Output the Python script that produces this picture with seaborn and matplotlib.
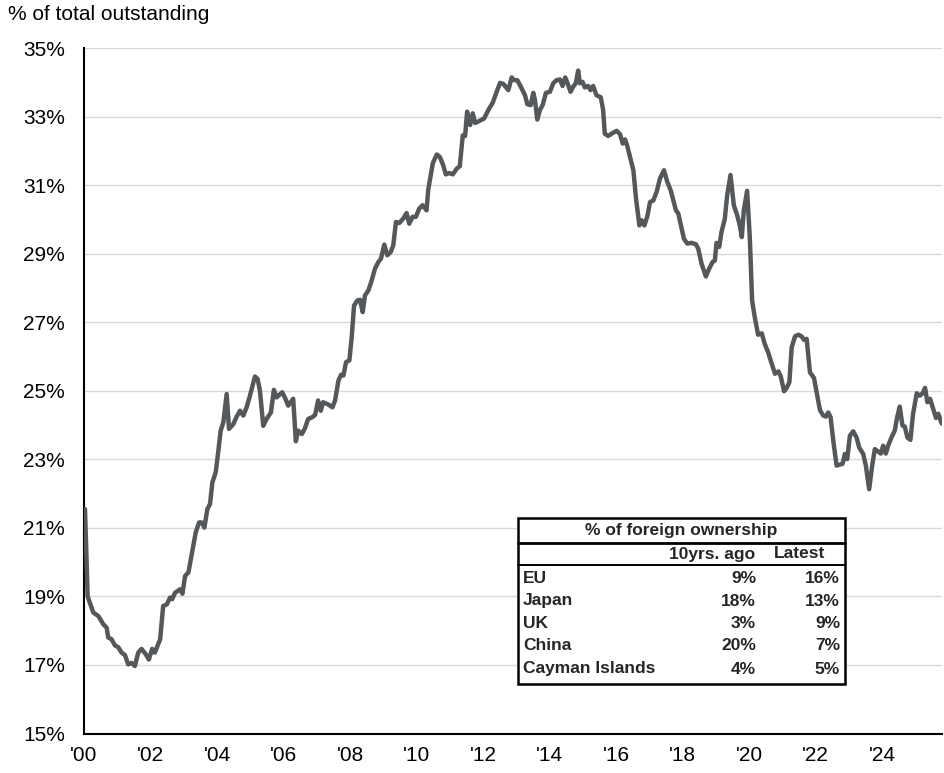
import matplotlib
matplotlib.use("Agg")
import matplotlib.pyplot as plt
import seaborn as sns
import pandas as pd
from matplotlib.patches import Rectangle
from matplotlib.lines import Line2D

# ---- data (decimal years, % of total outstanding) ----
years = [
    2000.03, 2000.11, 2000.28, 2000.43, 2000.58, 2000.68, 2000.73, 2000.83, 2000.93, 2001.03,
    2001.13, 2001.23, 2001.33, 2001.43, 2001.53, 2001.63, 2001.73, 2001.86, 2001.95, 2002.05,
    2002.13, 2002.29, 2002.38, 2002.49, 2002.59, 2002.65, 2002.74, 2002.89, 2002.96, 2003.04,
    2003.14, 2003.26, 2003.36, 2003.46, 2003.54, 2003.62, 2003.71, 2003.79, 2003.86, 2003.96,
    2004.04, 2004.11, 2004.19, 2004.29, 2004.36, 2004.49, 2004.59, 2004.69, 2004.79, 2004.89,
    2004.99, 2005.14, 2005.22, 2005.29, 2005.39, 2005.49, 2005.62, 2005.71, 2005.79, 2005.96,
    2006.04, 2006.14, 2006.29, 2006.37, 2006.44, 2006.55, 2006.64, 2006.74, 2006.86, 2006.95,
    2007.04, 2007.12, 2007.19, 2007.35, 2007.47, 2007.55, 2007.65, 2007.73, 2007.80, 2007.88,
    2007.98, 2008.05, 2008.12, 2008.22, 2008.30, 2008.38, 2008.45, 2008.55, 2008.65, 2008.75,
    2008.85, 2008.93, 2009.03, 2009.12, 2009.22, 2009.30, 2009.38, 2009.48, 2009.60, 2009.70,
    2009.78, 2009.88, 2009.98, 2010.08, 2010.18, 2010.30, 2010.35, 2010.40, 2010.49, 2010.61,
    2010.70, 2010.80, 2010.88, 2010.98, 2011.09, 2011.21, 2011.30, 2011.39, 2011.46, 2011.52,
    2011.61, 2011.69, 2011.76, 2011.89, 2012.03, 2012.16, 2012.29, 2012.39, 2012.51, 2012.61,
    2012.76, 2012.86, 2012.93, 2013.03, 2013.16, 2013.26, 2013.33, 2013.43, 2013.51, 2013.56,
    2013.63, 2013.71, 2013.79, 2013.89, 2014.01, 2014.11, 2014.21, 2014.31, 2014.39, 2014.47,
    2014.54, 2014.63, 2014.71, 2014.79, 2014.86, 2014.91, 2014.99, 2015.06, 2015.16, 2015.23,
    2015.31, 2015.41, 2015.54, 2015.61, 2015.66, 2015.76, 2015.90, 2016.02, 2016.12, 2016.20,
    2016.27, 2016.33, 2016.42, 2016.52, 2016.60, 2016.70, 2016.77, 2016.85, 2016.94, 2017.02,
    2017.12, 2017.22, 2017.32, 2017.44, 2017.54, 2017.64, 2017.72, 2017.80, 2017.87, 2017.94,
    2018.04, 2018.14, 2018.27, 2018.40, 2018.47, 2018.57, 2018.70, 2018.80, 2018.90, 2018.97,
    2019.02, 2019.10, 2019.17, 2019.27, 2019.34, 2019.44, 2019.54, 2019.64, 2019.72, 2019.78,
    2019.84, 2019.94, 2020.02, 2020.09, 2020.17, 2020.27, 2020.38, 2020.47, 2020.57, 2020.68,
    2020.78, 2020.88, 2020.95, 2021.05, 2021.13, 2021.21, 2021.28, 2021.38, 2021.48, 2021.58,
    2021.65, 2021.73, 2021.83, 2021.95, 2022.05, 2022.13, 2022.23, 2022.31, 2022.38, 2022.45,
    2022.53, 2022.63, 2022.73, 2022.81, 2022.88, 2022.95, 2023.03, 2023.13, 2023.23, 2023.31,
    2023.43, 2023.51, 2023.61, 2023.70, 2023.78, 2023.88, 2023.96, 2024.03, 2024.11, 2024.18,
    2024.28, 2024.38, 2024.45, 2024.53, 2024.61, 2024.68, 2024.76, 2024.85, 2024.93, 2025.04,
    2025.13, 2025.22, 2025.29, 2025.36, 2025.44, 2025.52, 2025.62, 2025.69, 2025.79,
]
values = [
    21.55, 19.00, 18.53, 18.43, 18.19, 18.09, 17.80, 17.75, 17.57, 17.52,
    17.36, 17.29, 17.02, 17.06, 16.97, 17.36, 17.47, 17.31, 17.16, 17.47,
    17.36, 17.75, 18.72, 18.77, 18.97, 18.92, 19.11, 19.21, 19.08, 19.60,
    19.70, 20.33, 20.87, 21.16, 21.16, 21.01, 21.55, 21.70, 22.33, 22.62,
    23.25, 23.84, 24.08, 24.91, 23.89, 24.03, 24.25, 24.42, 24.28, 24.52,
    24.86, 25.42, 25.35, 25.01, 23.98, 24.18, 24.37, 25.03, 24.81, 24.96,
    24.81, 24.57, 24.77, 23.53, 23.84, 23.74, 23.90, 24.18, 24.23, 24.30,
    24.72, 24.42, 24.67, 24.60, 24.52, 24.72, 25.30, 25.47, 25.45, 25.84,
    25.89, 26.57, 27.49, 27.64, 27.66, 27.30, 27.79, 27.93, 28.22, 28.57,
    28.76, 28.86, 29.27, 28.96, 29.05, 29.25, 29.93, 29.90, 30.03, 30.19,
    29.88, 30.08, 30.08, 30.32, 30.42, 30.27, 30.86, 31.15, 31.65, 31.90,
    31.83, 31.59, 31.32, 31.36, 31.32, 31.49, 31.56, 32.46, 32.44, 33.15,
    32.76, 33.10, 32.82, 32.88, 32.95, 33.20, 33.41, 33.68, 33.99, 33.96,
    33.78, 34.15, 34.07, 34.07, 33.83, 33.63, 33.37, 33.34, 33.70, 33.49,
    32.92, 33.20, 33.34, 33.70, 33.73, 33.98, 34.07, 34.09, 33.90, 34.15,
    33.98, 33.73, 33.88, 33.98, 34.35, 33.98, 34.02, 33.86, 33.90, 33.78,
    33.90, 33.63, 33.57, 33.20, 32.51, 32.44, 32.53, 32.59, 32.49, 32.22,
    32.34, 32.17, 31.83, 31.44, 30.61, 29.83, 29.98, 29.83, 30.10, 30.51,
    30.56, 30.81, 31.20, 31.44, 31.10, 30.86, 30.56, 30.27, 30.18, 29.88,
    29.44, 29.30, 29.32, 29.28, 29.15, 28.71, 28.34, 28.57, 28.76, 28.81,
    29.32, 29.20, 29.64, 30.03, 30.71, 31.30, 30.42, 30.13, 29.83, 29.49,
    30.27, 30.84, 29.49, 27.64, 27.15, 26.64, 26.68, 26.37, 26.13, 25.79,
    25.50, 25.57, 25.43, 24.99, 25.09, 25.25, 26.27, 26.59, 26.64, 26.59,
    26.49, 26.52, 25.54, 25.38, 24.86, 24.44, 24.28, 24.25, 24.37, 24.23,
    23.55, 22.82, 22.85, 22.87, 23.16, 23.01, 23.69, 23.82, 23.64, 23.35,
    23.16, 22.82, 22.13, 22.82, 23.30, 23.23, 23.17, 23.40, 23.17, 23.40,
    23.64, 23.84, 24.23, 24.54, 23.99, 23.96, 23.64, 23.57, 24.33, 24.93,
    24.86, 24.93, 25.09, 24.67, 24.77, 24.52, 24.21, 24.33, 24.05,
]

x_ticks = list(range(2000, 2025, 2))
x_tick_labels = ["'00", "'02", "'04", "'06", "'08", "'10", "'12", "'14", "'16", "'18", "'20", "'22", "'24"]
y_ticks = list(range(15, 36, 2))
y_tick_labels = [f"{v}%" for v in y_ticks]

table_title = "% of foreign ownership"
table_headers = ["10yrs. ago", "Latest"]
countries = ["EU", "Japan", "UK", "China", "Cayman Islands"]
ten_yrs_ago = ["9%", "18%", "3%", "20%", "4%"]
latest = ["16%", "13%", "9%", "7%", "5%"]

# ---- style ----
sns.set_theme(style="white")
plt.rcParams["font.family"] = ["Liberation Sans", "DejaVu Sans"]

W, H = 944, 773
fig = plt.figure(figsize=(W / 100, H / 100), dpi=100)
ax = fig.add_axes([84 / W, 1 - 733.5 / H, (942 - 84) / W, (733.5 - 48.3) / H])

df = pd.DataFrame({"year": years, "value": values})
sns.lineplot(data=df, x="year", y="value", ax=ax, color="#54585b", linewidth=3.2, zorder=3)

ax.set_xlim(2000, 2025.8)
ax.set_ylim(15, 35)
ax.set_xticks(x_ticks)
ax.set_xticklabels(x_tick_labels, fontsize=15)
ax.set_yticks(y_ticks)
ax.set_yticklabels(y_tick_labels, fontsize=15)
ax.set_xlabel("")
ax.set_ylabel("")
ax.grid(axis="y", color="#d9d9d9", linewidth=1.0, zorder=0)
ax.grid(axis="x", visible=False)
ax.set_axisbelow(True)
for s in ["top", "right"]:
    ax.spines[s].set_visible(False)
for s in ["left", "bottom"]:
    ax.spines[s].set_color("black")
    ax.spines[s].set_linewidth(1.5)
ax.tick_params(axis="x", direction="out", length=4.3, width=1.2, color="black", pad=4.5, labelcolor="black")
ax.tick_params(axis="y", length=0, pad=13.5, labelcolor="black")

fig.text(8 / W, 1 - 19.5 / H, "% of total outstanding", fontsize=15, va="baseline", ha="left", color="black")

# ---- inset table ----
def fx(x):
    return x / W

def fy(y):
    return 1 - y / H

box = Rectangle((fx(517.5), fy(683.5)), fx(844.5) - fx(517.5), fy(517.5) - fy(683.5),
                transform=fig.transFigure, facecolor="white", edgecolor="black",
                linewidth=1.8, zorder=10)
fig.add_artist(box)
fig.add_artist(Line2D([fx(517.5), fx(844.5)], [fy(542.5), fy(542.5)], transform=fig.transFigure,
                      color="black", linewidth=2.0, zorder=11))
fig.add_artist(Line2D([fx(517.5), fx(844.5)], [fy(565), fy(565)], transform=fig.transFigure,
                      color="black", linewidth=1.4, zorder=11))

tfs = 12.5
fig.text(fx(681), fy(530), table_title, fontsize=tfs, fontweight="bold", ha="center", va="center", zorder=12)
fig.text(fx(755), fy(554), table_headers[0], fontsize=tfs, fontweight="bold", ha="right", va="center", zorder=12)
fig.text(fx(825), fy(554), table_headers[1], fontsize=tfs, fontweight="bold", ha="right", va="center", zorder=12)
row_y = [578.5, 601, 623.5, 646, 669]
for name, a, b, yy in zip(countries, ten_yrs_ago, latest, row_y):
    fig.text(fx(523), fy(yy), name, fontsize=tfs, fontweight="bold", ha="left", va="center", zorder=12)
    fig.text(fx(756), fy(yy), a, fontsize=tfs, fontweight="bold", ha="right", va="center", zorder=12)
    fig.text(fx(840), fy(yy), b, fontsize=tfs, fontweight="bold", ha="right", va="center", zorder=12)

fig.savefig("out.png", dpi=100)
